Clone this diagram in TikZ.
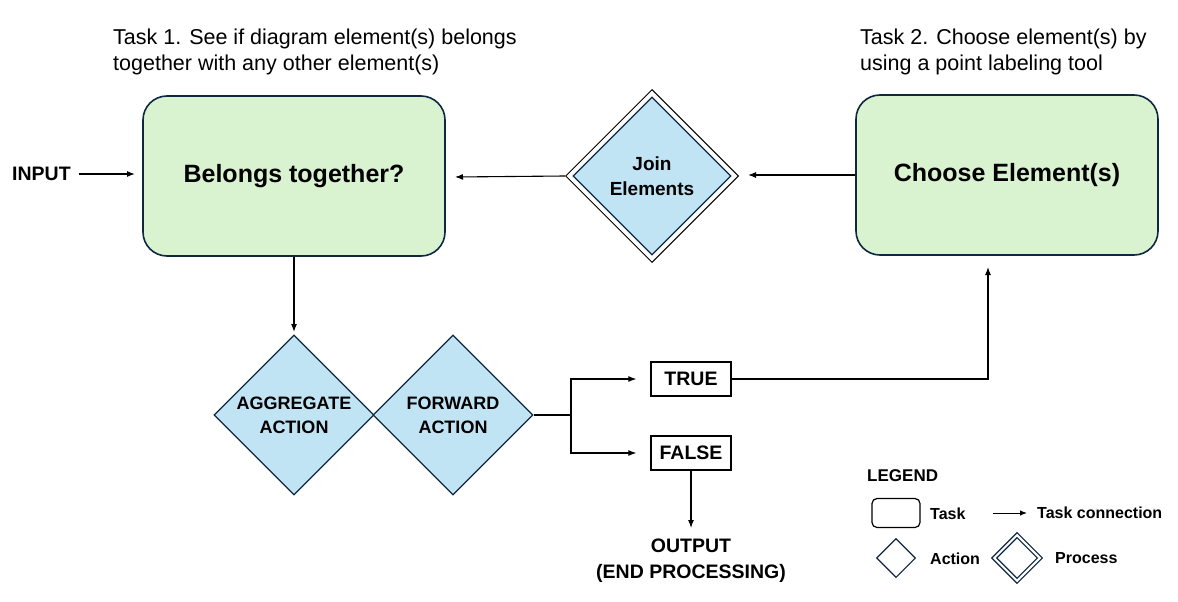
\documentclass[tikz,border=0pt]{standalone}
\usepackage{fontspec}
\setmainfont{Liberation Sans}
\usetikzlibrary{shapes.geometric,arrows.meta,calc}
\definecolor{navy}{HTML}{0E2841}
\definecolor{taskgreen}{HTML}{D9F2D0}
\definecolor{actblue}{HTML}{C1E4F5}
\tikzset{
  taskbox/.style={draw=navy,line width=1.6pt,fill=taskgreen,rounded corners=24pt,minimum width=302pt,minimum height=160pt,font=\fontsize{25}{28}\selectfont\bfseries},
  actdia/.style={diamond,aspect=1,draw=navy,line width=1.2pt,fill=actblue,minimum size=160pt,inner sep=0pt,font=\fontsize{18}{24}\selectfont\bfseries,align=center},
  procout/.style={diamond,aspect=1,draw=black,line width=1pt,fill=white,minimum size=173pt,inner sep=0pt},
  procin/.style={diamond,aspect=1,draw=navy,line width=1.2pt,fill=actblue,minimum size=158pt,inner sep=0pt,font=\fontsize{19}{25}\selectfont\bfseries,align=center},
  boolbox/.style={draw=black,line width=1.3pt,fill=white,minimum width=80pt,minimum height=34pt,inner sep=0pt,font=\fontsize{19.5}{22}\selectfont\bfseries},
  conn/.style={line width=1.1pt,-{Latex[length=8pt,width=6pt]}},
  plain/.style={line width=1.1pt},
  note/.style={font=\fontsize{21.5}{26}\selectfont,align=left,anchor=north west,inner sep=0pt},
  lbl/.style={font=\fontsize{19.5}{26}\selectfont\bfseries,inner sep=0pt},
  leg/.style={font=\fontsize{16}{18}\selectfont\bfseries,inner sep=0pt,anchor=west}
}
\begin{document}
\begin{tikzpicture}[x=1pt,y=-1pt]
\useasboundingbox[fill=white] (0,0) rectangle (1178,602);
% notes
\node[note] (t1) at (113,29) {Task 1. See if diagram element(s) belongs\\together with any other element(s)};
\node[note] (t2) at (860,29) {Task 2. Choose element(s) by\\using a point labeling tool};
% tasks
\node[taskbox] (belong) at (294,176) {Belongs together?};
\node[taskbox] (choose) at (1007,175) {Choose Element(s)};
% join process
\node[procout] (joinout) at (652,176) {};
\node[procin] (join) at (652,176) {Join\\Elements};
% input
\node[lbl,anchor=west] (input) at (12,174) {INPUT};
\coordinate (inend) at (135,174);
\draw[conn] (79,174) -- (inend);
% arrows top
\coordinate (joinR) at (748,175);
\coordinate (belR) at (455,177);
\draw[conn] (choose.west) -- (joinR);
\draw[conn] (joinout.west) -- (belR);
% actions
\node[actdia] (agg) at (294,415) {AGGREGATE\\ACTION};
\node[actdia] (fwd) at (453,415) {FORWARD\\ACTION};
\coordinate (aggtop) at (294,332);
\draw[conn] (belong.south) -- (aggtop);
% true/false
\node[boolbox] (true) at (691,379) {TRUE};
\node[boolbox] (false) at (691,453) {FALSE};
\coordinate (split) at (571,415);
\draw[plain] (fwd.east) -- (split);
\draw[conn] (split) |- ($(true.west)+(-14,0)$);
\draw[conn] (split) |- ($(false.west)+(-14,0)$);
\coordinate (corner) at (988,379);
\coordinate (chbot) at (988,267);
\draw[conn] (true.east) -- (corner) -- (chbot);
% output
\node[lbl,align=center,anchor=north] (output) at (691,539) {OUTPUT\\(END PROCESSING)};
\coordinate (outtop) at (691,528);
\draw[conn] (false.south) -- (outtop);
% legend
\node[leg,font=\fontsize{17}{18}\selectfont\bfseries] (legend) at (867,476) {LEGEND};
\node[draw=black,line width=1.2pt,rounded corners=5pt,minimum width=48pt,minimum height=29pt,inner sep=0pt] (legtask) at (896,513) {};
\node[leg] (legtasklbl) at (930,514) {Task};
\coordinate (la1) at (993,513);
\coordinate (la2) at (1027,513);
\draw[line width=1pt,-{Latex[length=7pt,width=5.5pt]}] (la1) -- (la2);
\node[leg] (legconn) at (1037,513) {Task connection};
\node[diamond,aspect=1,draw=navy,line width=1.1pt,minimum size=39pt,inner sep=0pt] (legact) at (896,558) {};
\node[leg] (legactlbl) at (930,559) {Action};
\node[diamond,aspect=1,draw=navy,line width=1.1pt,minimum size=51pt,inner sep=0pt] (legprocout) at (1017,558) {};
\node[diamond,aspect=1,draw=navy,line width=1.1pt,minimum size=41pt,inner sep=0pt] (legprocin) at (1017,558) {};
\node[leg] (legproclbl) at (1055,558) {Process};
\end{tikzpicture}
\end{document}
